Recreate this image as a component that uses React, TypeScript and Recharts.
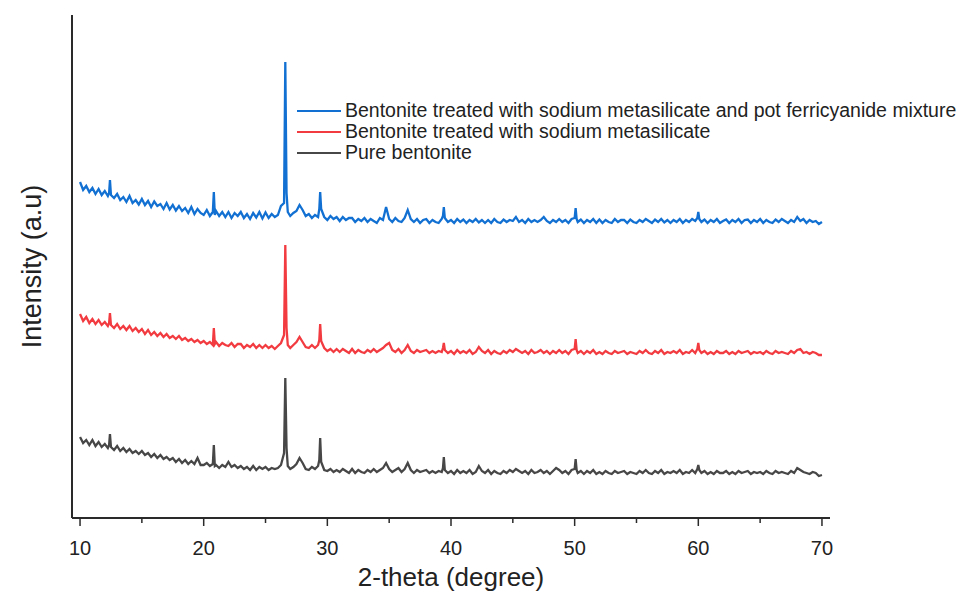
import React from 'react';
import { LineChart, Line, XAxis, YAxis, Legend, Label } from 'recharts';

// 2-theta positions (degree), one row per degree
const twoTheta = [
  10, 10.25, 10.5, 10.75,
  11, 11.25, 11.5, 11.75,
  12, 12.25, 12.35, 12.42, 12.5, 12.75,
  13, 13.25, 13.5, 13.75,
  14, 14.25, 14.5, 14.75,
  15, 15.25, 15.5, 15.75,
  16, 16.25, 16.5, 16.75,
  17, 17.25, 17.5, 17.75,
  18, 18.25, 18.5, 18.75,
  19, 19.25, 19.5, 19.75,
  20, 20.25, 20.5, 20.74, 20.82, 20.9,
  21, 21.25, 21.5, 21.75,
  22, 22.25, 22.5, 22.75,
  23, 23.25, 23.5, 23.75,
  24, 24.25, 24.5, 24.75,
  25, 25.25, 25.5, 25.75,
  26, 26.25, 26.5, 26.6, 26.7, 26.8,
  27, 27.25, 27.5, 27.75,
  28, 28.25, 28.5, 28.75,
  29, 29.25, 29.35, 29.42, 29.5, 29.75,
  30, 30.25, 30.5, 30.75,
  31, 31.25, 31.5, 31.75,
  32, 32.25, 32.5, 32.75,
  33, 33.25, 33.5, 33.75,
  34, 34.25, 34.5, 34.75,
  35, 35.25, 35.5, 35.75,
  36, 36.25, 36.5, 36.75,
  37, 37.25, 37.5, 37.75,
  38, 38.25, 38.5, 38.75,
  39, 39.25, 39.35, 39.42, 39.5, 39.75,
  40, 40.25, 40.5, 40.75,
  41, 41.25, 41.5, 41.75,
  42, 42.25, 42.5, 42.75,
  43, 43.25, 43.5, 43.75,
  44, 44.25, 44.5, 44.75,
  45, 45.25, 45.5, 45.75,
  46, 46.25, 46.5, 46.75,
  47, 47.25, 47.5, 47.75,
  48, 48.25, 48.5, 48.75,
  49, 49.25, 49.5, 49.75,
  50, 50.08, 50.16, 50.25, 50.5, 50.75,
  51, 51.25, 51.5, 51.75,
  52, 52.25, 52.5, 52.75,
  53, 53.25, 53.5, 53.75,
  54, 54.25, 54.5, 54.75,
  55, 55.25, 55.5, 55.75,
  56, 56.25, 56.5, 56.75,
  57, 57.25, 57.5, 57.75,
  58, 58.25, 58.5, 58.75,
  59, 59.25, 59.5, 59.75, 59.92,
  60, 60.08, 60.25, 60.5, 60.75,
  61, 61.25, 61.5, 61.75,
  62, 62.25, 62.5, 62.75,
  63, 63.25, 63.5, 63.75,
  64, 64.25, 64.5, 64.75,
  65, 65.25, 65.5, 65.75,
  66, 66.25, 66.5, 66.75,
  67, 67.25, 67.5, 67.75,
  68, 68.25, 68.5, 68.75,
  69, 69.25, 69.5, 69.75,
  70,
];

// Bentonite treated with sodium metasilicate and pot ferricyanide mixture
const mixtureTreated = [
  672, 656, 664, 652,
  660, 648, 658, 646,
  654, 644, 650, 676, 646, 640,
  648, 636, 642, 632,
  644, 630, 636, 627,
  638, 626, 634, 622,
  633, 624, 628, 618,
  630, 617, 626, 615,
  624, 614, 620, 610,
  622, 608, 618, 610,
  606, 616, 604, 612, 652, 606,
  614, 604, 612, 602,
  612, 600, 610, 604,
  612, 600, 608, 598,
  610, 601, 612, 599,
  611, 600, 608, 602,
  606, 624, 630, 912, 650, 612,
  604, 610, 614, 626,
  616, 604, 608, 600,
  606, 602, 618, 652, 618, 602,
  596, 604, 598, 602,
  594, 602, 596, 600,
  600, 592, 598, 594,
  600, 592, 598, 594,
  590, 600, 596, 622,
  598, 592, 600, 594,
  592, 600, 616, 598,
  592, 598, 590, 596,
  598, 590, 596, 592,
  590, 598, 604, 622, 600, 592,
  596, 590, 598, 592,
  597, 590, 596, 592,
  598, 591, 596, 590,
  596, 590, 598, 592,
  590, 597, 592, 596,
  594, 602, 592, 596,
  590, 598, 592, 596,
  592, 596, 602, 594,
  590, 596, 592, 598,
  592, 596, 590, 598,
  600, 620, 598, 592, 597, 590,
  596, 592, 598, 590,
  597, 590, 596, 592,
  590, 598, 592, 596,
  596, 590, 597, 592,
  590, 596, 592, 598,
  594, 590, 597, 592,
  598, 591, 596, 590,
  596, 592, 598, 590,
  596, 592, 598, 594, 600,
  612, 598, 592, 597, 590,
  596, 592, 598, 590,
  594, 597, 590, 596,
  592, 598, 590, 596,
  597, 590, 596, 592,
  598, 590, 596, 592,
  590, 597, 592, 598,
  594, 590, 596, 592,
  602, 594, 598, 590,
  596, 592, 594, 588,
  592,
];

// Bentonite treated with sodium metasilicate
const silicateTreated = [
  408, 394, 402, 390,
  398, 388, 396, 386,
  392, 384, 390, 410, 386, 380,
  388, 378, 384, 376,
  384, 374, 380, 372,
  378, 368, 376, 366,
  372, 364, 370, 362,
  368, 360, 364, 358,
  364, 356, 360, 354,
  358, 352, 356, 350,
  354, 348, 352, 346, 380, 348,
  352, 344, 350, 346,
  344, 350, 342, 348,
  348, 340, 346, 342,
  348, 340, 346, 340,
  346, 340, 344, 338,
  344, 350, 366, 546, 380, 346,
  340, 346, 352, 362,
  352, 342, 340, 346,
  340, 346, 356, 388, 354, 340,
  334, 338, 332, 338,
  332, 338, 334, 330,
  338, 330, 336, 332,
  330, 336, 332, 338,
  332, 336, 340, 346,
  350, 336, 332, 338,
  330, 336, 346, 334,
  330, 336, 332, 334,
  336, 330, 334, 330,
  334, 332, 340, 350, 336, 330,
  334, 328, 336, 330,
  334, 330, 336, 328,
  332, 342, 334, 330,
  336, 328, 334, 330,
  328, 334, 330, 336,
  332, 338, 334, 330,
  334, 328, 336, 330,
  332, 336, 330, 334,
  328, 334, 330, 336,
  330, 334, 328, 336,
  338, 358, 336, 330, 334, 328,
  334, 330, 336, 328,
  332, 328, 334, 330,
  328, 334, 330, 332,
  334, 328, 332, 330,
  328, 334, 330, 336,
  330, 328, 334, 330,
  336, 328, 332, 330,
  334, 330, 336, 328,
  332, 330, 336, 330, 338,
  350, 336, 330, 334, 328,
  332, 328, 334, 330,
  330, 334, 328, 332,
  328, 334, 330, 332,
  334, 328, 332, 330,
  332, 328, 334, 330,
  328, 334, 330, 332,
  330, 328, 334, 330,
  336, 338, 330, 332,
  328, 332, 330, 326,
  326,
];

// Pure bentonite
const pureBentonite = [
  162, 150, 156, 146,
  156, 144, 152, 142,
  148, 140, 146, 168, 142, 136,
  144, 134, 140, 132,
  138, 130, 134, 128,
  134, 126, 130, 122,
  128, 120, 126, 118,
  122, 116, 120, 112,
  118, 110, 116, 108,
  114, 108, 120, 106,
  106, 110, 104, 108, 146, 104,
  106, 100, 106, 102,
  112, 102, 106, 100,
  104, 98, 102, 96,
  104, 96, 102, 98,
  102, 96, 100, 98,
  100, 106, 130, 280, 140, 104,
  98, 102, 108, 120,
  110, 98, 96, 102,
  98, 104, 116, 160, 112, 96,
  94, 98, 92, 96,
  92, 98, 94, 90,
  98, 90, 96, 92,
  90, 96, 92, 98,
  92, 96, 100, 110,
  98, 92, 96, 100,
  92, 98, 110, 96,
  90, 96, 92, 94,
  96, 90, 94, 90,
  94, 92, 100, 122, 96, 90,
  94, 88, 96, 90,
  94, 90, 96, 88,
  92, 104, 94, 90,
  96, 88, 94, 90,
  88, 94, 90, 96,
  92, 98, 94, 90,
  94, 88, 96, 90,
  92, 96, 90, 94,
  88, 94, 100, 96,
  90, 94, 88, 96,
  98, 118, 96, 90, 94, 88,
  94, 90, 96, 88,
  92, 88, 94, 90,
  88, 94, 90, 92,
  94, 88, 92, 90,
  88, 94, 90, 96,
  90, 88, 94, 90,
  96, 88, 92, 90,
  94, 90, 96, 88,
  92, 90, 96, 90, 98,
  106, 96, 90, 94, 88,
  92, 88, 94, 90,
  90, 94, 88, 92,
  88, 94, 90, 92,
  94, 88, 92, 90,
  92, 88, 94, 90,
  88, 94, 90, 92,
  90, 88, 94, 90,
  100, 96, 92, 90,
  88, 92, 90, 84,
  86,
];

const xTicks = [10, 15, 20, 25, 30, 35, 40, 45, 50, 55, 60, 65, 70];
const seriesKeys = ['mix', 'sil', 'pure'];
const seriesNames = [
  'Bentonite treated with sodium metasilicate and pot ferricyanide mixture',
  'Bentonite treated with sodium metasilicate',
  'Pure bentonite',
];
const seriesColors = ['#1170d2', '#f23b40', '#474747'];

const data = twoTheta.map((t, i) => ({
  t,
  mix: mixtureTreated[i],
  sil: silicateTreated[i],
  pure: pureBentonite[i],
}));

const FONT = '"Liberation Sans", Arial, sans-serif';
const AXIS = '#2a2a2a';

const XTick = (props: any) => {
  const { x, y, payload } = props;
  const major = payload.value % 10 === 0;
  return (
    <g>
      <line x1={x} x2={x} y1={y} y2={y + (major ? 8 : 5)} stroke={AXIS} strokeWidth={1.5} />
      {major && (
        <text x={x} y={y + 37} textAnchor="middle" fontSize={20} fontFamily={FONT} fill="#222">
          {payload.value}
        </text>
      )}
    </g>
  );
};

const YTitle = (props: any) => {
  const vb = props.viewBox || { x: 0, y: 15, width: 72, height: 503 };
  const cx = vb.x + vb.width - 40;
  const cy = vb.y + vb.height / 2;
  return (
    <text
      x={cx}
      y={cy}
      transform={`rotate(-90, ${cx}, ${cy})`}
      textAnchor="middle"
      dominantBaseline="central"
      fontSize={27}
      fontFamily={FONT}
      fill="#222"
    >
      Intensity (a.u)
    </text>
  );
};

const LegendBox = () => (
  <div style={{ fontFamily: FONT, fontSize: 19.5, color: '#222', lineHeight: '21px' }}>
    {seriesNames.map((name, i) => (
      <div key={name} style={{ display: 'flex', alignItems: 'center', whiteSpace: 'nowrap' }}>
        <span
          style={{
            display: 'inline-block',
            width: 44,
            height: 2,
            background: seriesColors[i],
            marginRight: 4,
          }}
        />
        <span>{name}</span>
      </div>
    ))}
  </div>
);

export default function App() {
  return (
    <div style={{ position: 'absolute', left: 0, top: 0, width: 964, height: 594, background: '#fff' }}>
      <LineChart width={964} height={594} data={data} margin={{ top: 15, right: 134, bottom: 0, left: 0 }}>
        <XAxis
          dataKey="t"
          type="number"
          domain={[9.35, 70.65]}
          ticks={xTicks}
          interval={0}
          allowDataOverflow
          height={76}
          tickSize={0}
          tickMargin={0}
          tickLine={false}
          tick={<XTick />}
          axisLine={{ stroke: AXIS, strokeWidth: 2 }}
        >
          <Label
            value="2-theta (degree)"
            position="insideBottom"
            offset={8}
            style={{ fontSize: 26, fontFamily: FONT, fill: '#222' }}
          />
        </XAxis>
        <YAxis
          type="number"
          domain={[0, 1006]}
          width={72}
          tick={false}
          tickLine={false}
          axisLine={{ stroke: AXIS, strokeWidth: 2 }}
        >
          <Label content={<YTitle />} />
        </YAxis>
        <Legend
          layout="vertical"
          align="center"
          verticalAlign="middle"
          content={<LegendBox />}
          wrapperStyle={{ position: 'absolute', left: 297, top: 100, width: 'auto', height: 'auto' }}
        />
        {seriesKeys.map((k, i) => (
          <Line
            key={k}
            dataKey={k}
            name={seriesNames[i]}
            stroke={seriesColors[i]}
            strokeWidth={2.3}
            dot={false}
            isAnimationActive={false}
          />
        ))}
      </LineChart>
    </div>
  );
}
